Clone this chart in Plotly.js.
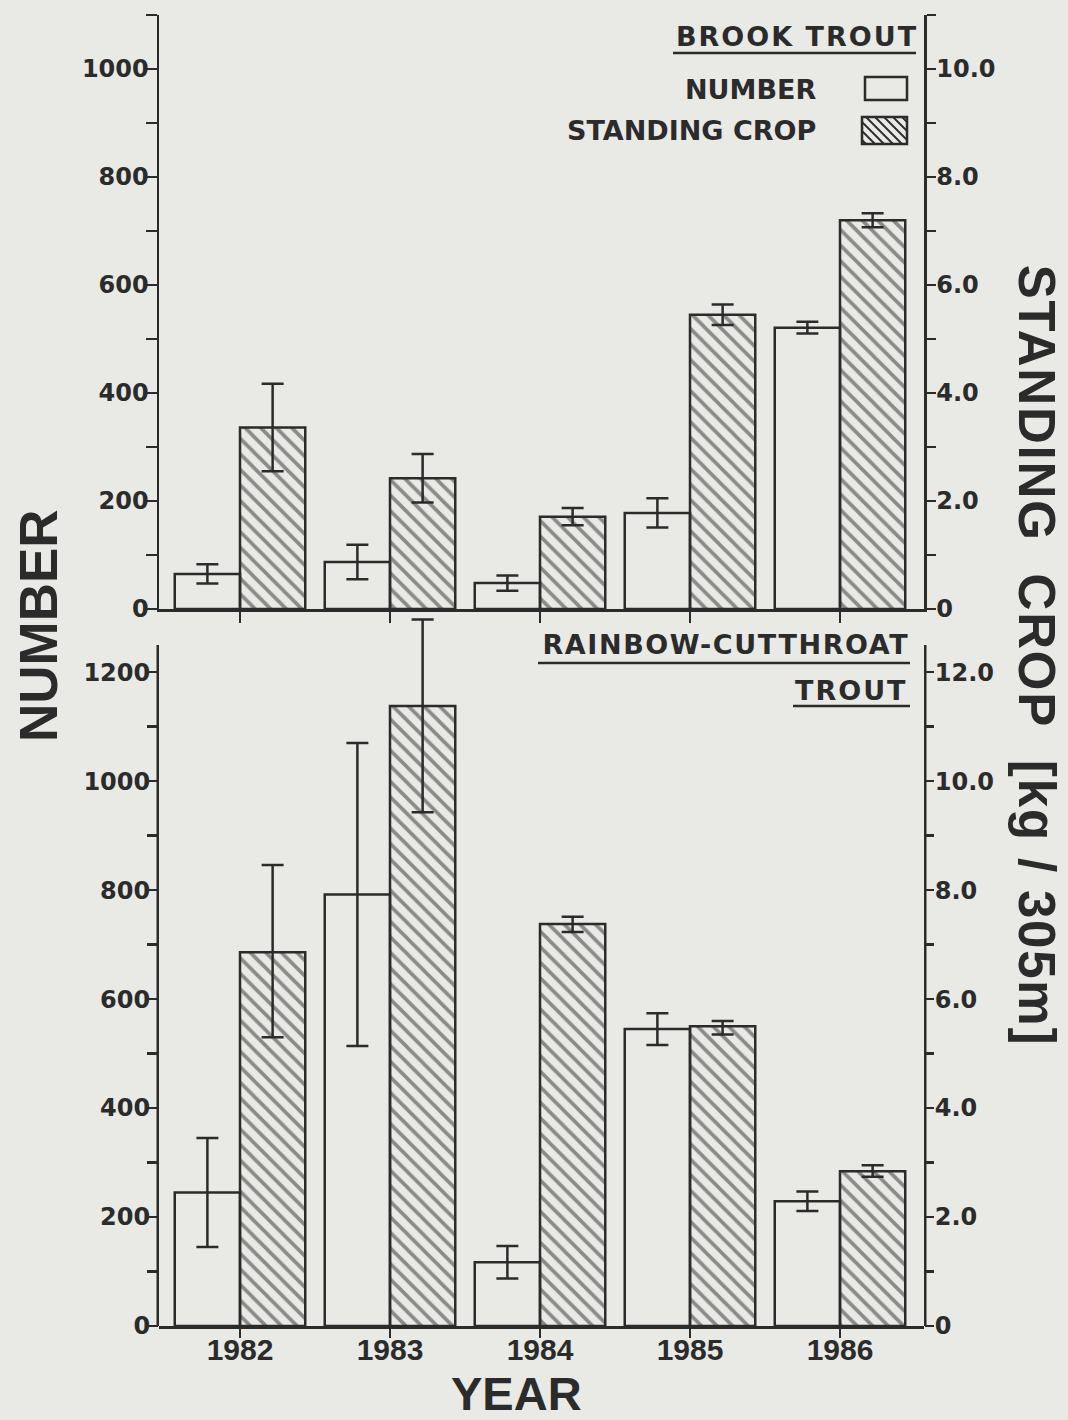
<!DOCTYPE html>
<html><head><meta charset="utf-8">
<script src="https://cdn.plot.ly/plotly-3.0.1.min.js"></script>
<style>
html,body{margin:0;padding:0;background:#e9e9e6;}
.annotation[data-index="0"] text{letter-spacing:2px;}
.annotation[data-index="3"] text{letter-spacing:1.6px;}
.annotation[data-index="4"] text{letter-spacing:2px;}
.annotation[data-index="6"] text{letter-spacing:1.8px;}
</style>
</head><body><div id="chart" style="width:1068px;height:1420px;"></div>
<script>
// ---- data ----
const years = ['1982', '1983', '1984', '1985', '1986'];
const brookNumber = [65, 87, 48, 178, 521];
const brookNumberErr = [18, 32, 14, 27, 11];
const brookCrop = [3.36, 2.42, 1.71, 5.45, 7.20];
const brookCropErr = [0.81, 0.45, 0.16, 0.19, 0.13];
const rainbowNumber = [245, 792, 117, 545, 229];
const rainbowNumberErr = [100, 278, 30, 29, 18];
const rainbowCrop = [6.86, 11.38, 7.38, 5.50, 2.84];
const rainbowCropErrPlus = [1.60, 1.59, 0.13, 0.10, 0.11];
const rainbowCropErrMinus = [1.56, 1.95, 0.15, 0.15, 0.10];
const numberTickVals = [0, 200, 400, 600, 800, 1000, 1200];
const numberMinorVals = [100, 300, 500, 700, 900, 1100];
const cropTickVals = [0, 2, 4, 6, 8, 10, 12];
const cropTickText = ['0', '2.0', '4.0', '6.0', '8.0', '10.0', '12.0'];
const cropMinorVals = [1, 3, 5, 7, 9, 11];
const topNumberMax = 1100, topCropMax = 11;
const botNumberMax = 1250, botCropMax = 12.5;

// ---- styling ----
const W = 1068, H = 1420;
const ink = '#2b2b2b';
const bg = '#e9e9e6';
const X = px => px / W;
const Y = py => 1 - py / H;

const xLeft = 159, xRight = 924;
const xDom = [X(xLeft), X(xRight)];
const xRange = [-0.54, 4.56];
const topDom = [Y(609), Y(15)];
// bottom panel: plot area extended upward so the tall error bar is not clipped
const botScale = (1326 - 645) / botNumberMax;        // px per unit
const botExt = 1310;                                   // extended range (numbers)
const botDom = [Y(1326), Y(1326 - botExt * botScale)];

const tickFontY = {family: 'DejaVu Sans', size: 24, color: ink, weight: 'bold'};
function minorT(vals, len) {
  return {tickmode: 'array', tickvals: vals, ticks: 'outside', ticklen: len, tickwidth: 2.5, tickcolor: ink, showgrid: false};
}
function yax(extra) {
  return Object.assign({
    showline: true, linecolor: ink, linewidth: 2.5,
    ticks: 'outside', ticklen: 11, tickwidth: 2.5, tickcolor: ink,
    showgrid: false, zeroline: false, fixedrange: true,
    tickfont: tickFontY, ticklabelstandoff: -8
  }, extra);
}
function xax(extra) {
  return Object.assign({
    type: 'category', range: xRange, domain: xDom,
    showline: true, linecolor: ink, linewidth: 2.5,
    ticks: 'outside', ticklen: 11, tickwidth: 2.5, tickcolor: ink,
    showgrid: false, zeroline: false, fixedrange: true
  }, extra);
}

const barW = 0.435;
function numberTrace(y, err, xa, ya) {
  return {
    type: 'bar', x: years, y: y, xaxis: xa, yaxis: ya,
    width: barW, offset: -barW, cliponaxis: false,
    marker: {color: 'rgba(0,0,0,0)', line: {color: ink, width: 2.5}},
    error_y: {type: 'data', array: err, visible: true, color: ink, thickness: 2.5, width: 11},
    showlegend: false, hoverinfo: 'skip'
  };
}
function cropTrace(y, errP, errM, xa, ya) {
  const e = {type: 'data', array: errP, visible: true, color: ink, thickness: 2.5, width: 11};
  if (errM) { e.symmetric = false; e.arrayminus = errM; }
  return {
    type: 'bar', x: years, y: y, xaxis: xa, yaxis: ya,
    width: barW, offset: 0, cliponaxis: false,
    marker: {color: 'rgba(0,0,0,0)', line: {color: ink, width: 2.5},
      pattern: {shape: '\\', size: 11, solidity: 0.33, fgcolor: ink, bgcolor: 'rgba(0,0,0,0)', fillmode: 'overlay'}},
    error_y: e,
    showlegend: false, hoverinfo: 'skip'
  };
}

const data = [
  numberTrace(brookNumber, brookNumberErr, 'x', 'y'),
  cropTrace(brookCrop, brookCropErr, null, 'x', 'y2'),
  numberTrace(rainbowNumber, rainbowNumberErr, 'x2', 'y3'),
  cropTrace(rainbowCrop, rainbowCropErrPlus, rainbowCropErrMinus, 'x2', 'y4')
];

// ---- axis lines of the bottom panel, legend swatches, underlines ----
const shapes = [];
shapes.push({type: 'line', xref: 'paper', yref: 'y3', x0: X(xLeft - 1.25), x1: X(xLeft - 1.25), y0: 0, y1: botNumberMax,
  line: {color: ink, width: 2.5}});
shapes.push({type: 'line', xref: 'paper', yref: 'y4', x0: X(xRight + 1.25), x1: X(xRight + 1.25), y0: 0, y1: botCropMax,
  line: {color: ink, width: 2.5}});
function pline(x0, y0, x1, y1, w) {
  shapes.push({type: 'line', xref: 'paper', yref: 'paper', x0: X(x0), y0: Y(y0), x1: X(x1), y1: Y(y1),
    line: {color: ink, width: w}});
}
function prect(x0, y0, x1, y1) {
  shapes.push({type: 'rect', xref: 'paper', yref: 'paper', x0: X(x0), y0: Y(y0), x1: X(x1), y1: Y(y1),
    line: {color: ink, width: 2.5}, fillcolor: 'rgba(0,0,0,0)'});
}
pline(673, 53, 916, 53, 2.5);
pline(538, 663, 910, 663, 2.5);
pline(793, 706, 910, 706, 2.5);
prect(865, 77, 907, 100);
(function () {
  const x0 = 862, x1 = 907, y0 = 117, y1 = 144, h = y1 - y0;
  let d = '';
  for (let c = x0 - h + 4; c < x1; c += 9) {
    const t0 = Math.max(0, x0 - c), t1 = Math.min(h, x1 - c);
    if (t1 <= t0) continue;
    d += 'M' + X(c + t0) + ',' + Y(y0 + t0) + 'L' + X(c + t1) + ',' + Y(y0 + t1);
  }
  shapes.push({type: 'path', xref: 'paper', yref: 'paper', path: d, line: {color: ink, width: 1.8}});
})();
prect(862, 117, 907, 144);

const legFont = {family: 'DejaVu Sans', size: 27, color: ink, weight: 'bold'};
function ann(text, x, y, xanchor, font, angle) {
  return {text: text, xref: 'paper', yref: 'paper', x: X(x), y: Y(y), xanchor: xanchor, yanchor: 'middle',
    showarrow: false, font: font, textangle: angle || 0};
}
const titleFont = {family: 'Liberation Sans', size: 53, color: ink, weight: 'bold'};
const annotations = [
  ann('BROOK TROUT', 910, 37, 'right', legFont),
  ann('NUMBER', 818, 89, 'right', legFont),
  ann('STANDING CROP', 818, 131, 'right', legFont),
  ann('RAINBOW-CUTTHROAT', 898, 645, 'right', legFont),
  ann('TROUT', 905, 690, 'right', legFont),
  ann('NUMBER', 38, 626, 'center', titleFont, -90),
  ann('STANDING\u00a0 CROP\u00a0 [kg / 305m]', 1036, 655, 'center',
    {family: 'Liberation Sans', size: 51, color: ink, weight: 'bold'}, 90),
  ann('YEAR', 516, 1393, 'center', {family: 'Liberation Sans', size: 47, color: ink, weight: 'bold'})
];

const layout = {
  width: W, height: H,
  margin: {l: 0, r: 0, t: 0, b: 0, pad: 0},
  paper_bgcolor: bg, plot_bgcolor: 'rgba(0,0,0,0)',
  showlegend: false, barmode: 'overlay',
  xaxis: xax({anchor: 'y', showticklabels: false}),
  xaxis2: xax({anchor: 'y3', showticklabels: true, ticklen: 9, ticklabelstandoff: -14,
    tickfont: {family: 'Liberation Sans', size: 30, color: ink, weight: 'bold'}}),
  yaxis: yax({domain: topDom, anchor: 'x', range: [0, topNumberMax], tickvals: numberTickVals,
    minor: minorT(numberMinorVals.concat([1100]), 11)}),
  yaxis2: yax({domain: topDom, anchor: 'x', overlaying: 'y', side: 'right', range: [0, topCropMax],
    tickvals: cropTickVals, ticktext: cropTickText, ticklen: 9, ticklabelstandoff: -4,
    minor: minorT(cropMinorVals, 9)}),
  yaxis3: yax({domain: botDom, anchor: 'x2', range: [0, botExt], tickvals: numberTickVals, showline: false,
    minor: minorT(numberMinorVals, 11)}),
  yaxis4: yax({domain: botDom, anchor: 'x2', overlaying: 'y3', side: 'right', range: [0, botExt / 100],
    tickvals: cropTickVals, ticktext: cropTickText, showline: false, ticklen: 9, ticklabelstandoff: -4,
    minor: minorT(cropMinorVals, 9)}),
  shapes: shapes,
  annotations: annotations
};

Plotly.newPlot('chart', data, layout, {staticPlot: true, displayModeBar: false});
</script>
</body></html>
